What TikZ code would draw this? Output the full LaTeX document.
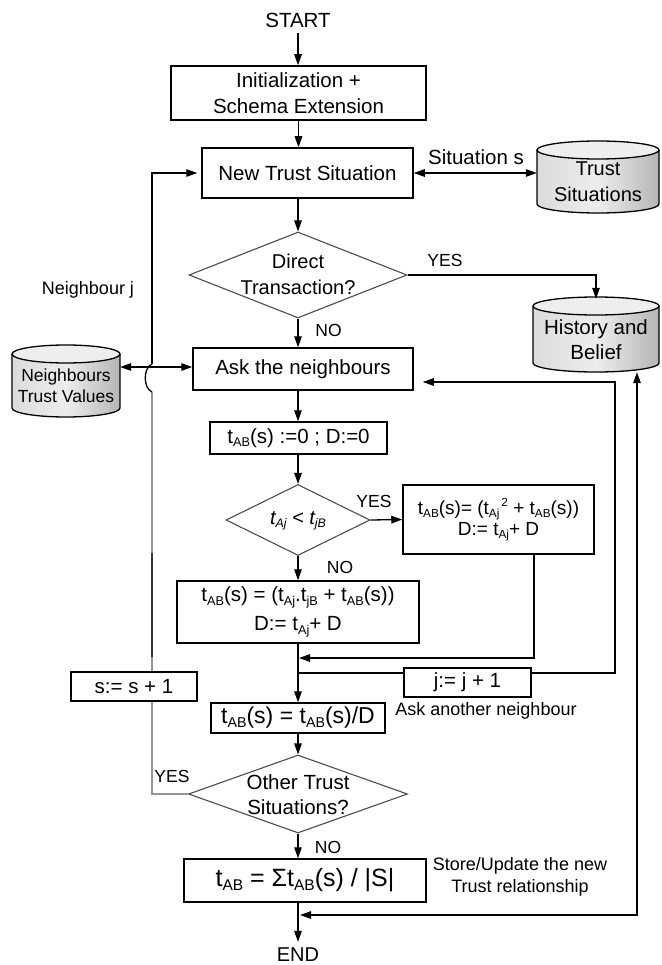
\documentclass[tikz,border=0pt]{standalone}
\usepackage{fontspec}
\setmainfont{Liberation Sans}
\usepackage{graphicx}
\usetikzlibrary{arrows.meta,shapes.geometric}

% lowered / raised small indices
\newcommand\lo[1]{\raisebox{-0.3ex}{\scalebox{0.62}{#1}}}
\newcommand\hi[1]{\raisebox{0.8ex}{\scalebox{0.62}{#1}}}
\newcommand\fs[2]{\fontsize{#1}{#2}\selectfont}

% database cylinder: name, x-left, x-right, y-top, y-bottom, font, text
\newcommand\dbcyl[7]{%
  \pgfmathsetmacro\cyA{#2}%
  \pgfmathsetmacro\cyB{#3}%
  \pgfmathsetmacro\cyM{(#2+#3)/2}%
  \pgfmathsetmacro\cyR{(#3-#2)/2}%
  \pgfmathsetmacro\cyK{0.552*\cyR}%
  \pgfmathsetmacro\cyT{#4+9}%
  \pgfmathsetmacro\cyU{#5-9}%
  \pgfmathsetmacro\cyE{#5-4}%
  \shade[left color=gray!28, right color=gray!58, middle color=gray!14]
    (\cyA,\cyT) -- (\cyA,\cyU) .. controls (\cyA,\cyE) and ({\cyM-\cyK},#5) .. (\cyM,#5)
    .. controls ({\cyM+\cyK},#5) and (\cyB,\cyE) .. (\cyB,\cyU) -- (\cyB,\cyT) -- cycle;
  \draw[line width=1.3pt]
    (\cyA,\cyT) -- (\cyA,\cyU) .. controls (\cyA,\cyE) and ({\cyM-\cyK},#5) .. (\cyM,#5)
    .. controls ({\cyM+\cyK},#5) and (\cyB,\cyE) .. (\cyB,\cyU) -- (\cyB,\cyT);
  \filldraw[fill=gray!13, line width=1.3pt] (\cyM,\cyT) ellipse [x radius=\cyR, y radius=9];
  \node[inner sep=0pt, minimum width={(#3-#2)*1pt},
        minimum height={(#5-#4)*1pt}] (#1) at (\cyM,{(#4+#5)/2}) {};
  \node[inner sep=0pt, align=center, font=#6] (#1-text) at (\cyM,{(#4+#5)/2+5}) {#7};
}

\begin{document}
\begin{tikzpicture}[x=1pt,y=-1pt,
  box/.style={draw, line width=1.5pt, inner sep=0pt, align=center},
  dec/.style={diamond, draw=black!70, line width=1.1pt, inner sep=0pt},
  lbl/.style={inner sep=0pt, align=center},
  ln/.style={line width=1.3pt},
  pale/.style={line width=1.3pt, draw=black!42},
  arr/.style={ln, -{Triangle[length=11pt,width=7.5pt]}},
  dbl/.style={ln, {Triangle[length=11pt,width=7.5pt]}-{Triangle[length=11pt,width=7.5pt]}}]
\useasboundingbox (0,0) rectangle (661,965);

% databases
\dbcyl{tsit}{537}{659}{141}{213}{\fs{20}{26}}{Trust\\Situations}
\dbcyl{hist}{533}{659}{297}{372}{\fs{20.5}{25}}{History and\\Belief}
\dbcyl{neigh}{12}{120}{345}{417}{\fs{17.5}{21}}{Neighbours\\Trust Values}

% main column
\node[lbl, inner sep=6pt, font=\fs{20.5}{24}] (start) at (298,20) {START};
\node[box, minimum width=255pt, minimum height=54pt, font=\fs{20.5}{26}] (init) at (298.5,93) {Initialization +\\Schema Extension};
\node[box, minimum width=211pt, minimum height=50pt, font=\fs{20.5}{26}] (nts) at (307.5,173) {New Trust Situation};
\node[dec, minimum width=218pt, minimum height=86pt] (d1) at (298,275) {};
\node[lbl, font=\fs{20}{26}] (d1t) at (298,274) {Direct\\Transaction?};
\node[box, minimum width=220pt, minimum height=42pt, font=\fs{20.5}{24}] (ask) at (303,369) {Ask the neighbours};
\node[box, minimum width=177pt, minimum height=32pt, font=\fs{20.5}{24}] (init0) at (298.5,438) {t\lo{AB}(s) :=0 ; D:=0};
\node[dec, minimum width=144pt, minimum height=71pt] (d2) at (298,520) {};
\node[lbl, font=\fs{20}{24}\itshape] (d2t) at (298,521) {t\lo{Aj} < t\lo{jB}};
\node[box, minimum width=191pt, minimum height=69pt, font=\fs{19}{21}] (yesbox) at (498.5,519.5)
  {t\lo{AB}(s)= (t\lo{Aj}\kern2pt\hi{2} + t\lo{AB}(s))\\D:= t\lo{Aj}+ D};
\node[box, minimum width=242pt, minimum height=62pt, font=\fs{20.5}{29}] (nobox) at (298,612)
  {t\lo{AB}(s) = (t\lo{Aj}.t\lo{jB} + t\lo{AB}(s))\\D:= t\lo{Aj}+ D};
\node[box, minimum width=127pt, minimum height=29pt, font=\fs{20.5}{24}] (jbox) at (467.5,682.5) {j:= j + 1};
\node[box, minimum width=126pt, minimum height=29pt, font=\fs{20.5}{24}] (sbox) at (134,686.5) {s:= s + 1};
\node[box, minimum width=174pt, minimum height=30pt, font=\fs{23}{26}] (divbox) at (298,718) {t\lo{AB}(s) = t\lo{AB}(s)/D};
\node[dec, minimum width=219pt, minimum height=78pt] (d3) at (298,794) {};
\node[lbl, font=\fs{20.5}{25}] (d3t) at (298,795) {Other Trust\\Situations?};
\node[box, minimum width=242pt, minimum height=43pt, font=\fs{25}{28}] (final) at (305,880.5) {t\lo{AB} = Σt\lo{AB}(s) / |S|};
\node[lbl, inner sep=6pt, font=\fs{20}{24}] (end) at (298,955) {END};

% labels
\node[lbl, font=\fs{20.5}{24}] (lsit) at (476,157) {Situation s};
\node[lbl, font=\fs{17.5}{20}] (ly1) at (445,260) {YES};
\node[lbl, font=\fs{17.5}{20}] (ln1) at (328.5,330) {NO};
\node[lbl, font=\fs{18}{20}] (lnj) at (88,290) {Neighbour j};
\node[lbl, font=\fs{17.5}{20}] (ly2) at (374,501) {YES};
\node[lbl, font=\fs{17.5}{20}] (ln2) at (340,567) {NO};
\node[lbl, font=\fs{18}{20}] (lask) at (486,711) {Ask another neighbour};
\node[lbl, font=\fs{17.5}{20}] (ly3) at (172,776) {YES};
\node[lbl, font=\fs{17.5}{20}] (ln3) at (328,847) {NO};
\node[lbl, font=\fs{18}{22}] (lstore) at (520,877) {Store/Update the new\\Trust relationship};

% helper points
\coordinate (lx) at (152,0);
\coordinate (hopb) at (152,392);
\coordinate (hopt) at (152,364);
\coordinate (darkb) at (152,657);
\coordinate (darkt) at (152,553);
\coordinate (m1) at (299,658);
\coordinate (jl) at (298,673);
\coordinate (jr) at (615,673);
\coordinate (br) at (637,915);
\coordinate (bl) at (300,915);

% main flow
\draw[arr] (start.south) -- (start.south |- init.north);
\draw[arr] (init.south) -- (init.south |- nts.north);
\draw[arr] (d1.north |- nts.south) -- (d1.north);
\draw[arr] (d1.south) -- (d1.south |- ask.north);
\draw[arr] (d1.south |- ask.south) -- (d1.south |- init0.north);
\draw[arr] (d2.north |- init0.south) -- (d2.north);
\draw[arr] (d2.south) -- (nobox.north);
\draw[arr] (nobox.south) -- (divbox.north);
\draw[arr] (divbox.south) -- (d3.north);
\draw[arr] (d3.south) -- (d3.south |- final.north);
\draw[arr] (end.north |- final.south) -- (end.north);

% side connections
\draw[dbl] (nts.east) -- (nts.east -| tsit.west);
\draw[arr] (d1.east) -| ([yshift=-2pt]hist.north);
\draw[dbl] ([yshift=2pt]ask.west) -- ([yshift=2pt]ask.west -| neigh.east);
\draw[arr] (d2.east) -- (yesbox.west);
\draw[arr] ([xshift=35.5pt]yesbox.south) |- (m1);
\draw[ln] (jl) -- (jl -| jbox.west);
\draw[arr] (jl -| jbox.east) -- (jr) -- (jr |- 0,382) -- ([xshift=9pt]ask.east |- 0,382);
\draw[dbl] (br |- hist.south) -- (br) -- (bl);

% situation loop on the left
\draw[pale] (d3.west) -| (sbox.south -| lx);
\draw[pale] (sbox.north -| lx) -- (darkb);
\draw[ln, draw=black!80] (darkb) -- (darkt);
\draw[pale] (darkt) -- (hopb);
\draw[ln] (hopb) .. controls (143,388) and (143,368) .. (hopt);
\draw[arr] (hopt) |- ([xshift=-4pt]nts.west);
\end{tikzpicture}
\end{document}
